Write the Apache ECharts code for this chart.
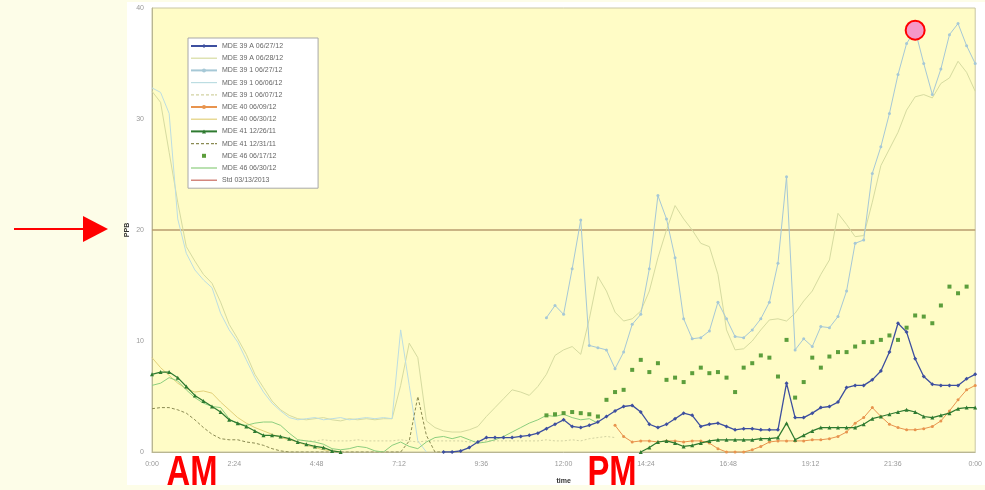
<!DOCTYPE html>
<html><head><meta charset="utf-8">
<script src="https://cdn.jsdelivr.net/npm/echarts@6/dist/echarts.min.js"></script>
<style>
html,body{margin:0;padding:0;background:#fdfde8;}
#paper{position:absolute;left:127px;top:2px;width:858px;height:483px;background:#ffffff;}
#c{position:absolute;left:0;top:0;width:985px;height:490px;}
</style>
</head><body>
<div id="paper"></div>
<div id="c"></div>
<script>
// ---- data (time in hours, 15-minute steps) ----
const STEP = 0.25;
const xTickLabels = ['0:00','2:24','4:48','7:12','9:36','12:00','14:24','16:48','19:12','21:36','0:00'];
const yTickLabels = ['0','10','20','30','40'];
const seriesNames = [
  'MDE 39 A 06/27/12','MDE 39 A 06/28/12','MDE 39 1 06/27/12','MDE 39 1 06/06/12',
  'MDE 39 1 06/07/12','MDE 40 06/09/12','MDE 40 06/30/12','MDE 41 12/26/11',
  'MDE 41 12/31/11','MDE 46 06/17/12','MDE 46 06/30/12','Std 03/13/2013'
];

const s1Start = 8.5;
const s1 = [0,0,0.1,0.4,0.9,1.3,1.3,1.3,1.3,1.4,1.5,1.7,2.1,2.5,2.9,2.3,2.2,2.4,2.7,3.2,3.7,4.1,4.2,3.6,2.5,2.2,2.5,3.0,3.5,3.3,2.3,2.5,2.6,2.3,2.0,2.1,2.1,2.0,2.0,2.0,6.2,3.1,3.1,3.5,4.0,4.1,4.5,5.8,6.0,6.0,6.5,7.3,9.0,11.6,10.8,8.4,6.8,6.1,6.0,6.0,6.0,6.6,7.0];

const s2Start = 0;
const s2 = [32.5,31.5,27.0,22.5,18.5,17.2,16.0,15.2,13.5,11.5,10.2,8.8,7.0,5.8,4.6,3.8,3.3,3.0,2.9,3.0,3.1,2.9,2.8,3.0,2.9,3.0,2.9,3.0,3.0,6.0,9.8,8.5,2.8,2.2,1.9,1.8,1.8,2.0,2.3,3.2,4.0,4.8,5.6,5.4,5.1,5.9,7.0,8.7,9.2,9.5,8.8,12.0,15.8,14.5,12.6,11.8,12.0,12.7,14.5,17.5,20.0,22.2,21.0,20.0,18.8,18.5,16.0,11.0,9.2,9.3,10.0,11.0,11.9,12.0,11.8,12.5,13.6,14.5,16.0,17.3,21.5,20.5,19.4,19.5,22.5,25.8,27.3,28.8,30.8,32.0,32.2,31.9,33.2,33.7,35.2,34.2,32.5];

const s3Start = 11.5;
const s3 = [12.1,13.2,12.4,16.5,20.9,9.6,9.4,9.2,7.5,9.0,11.5,12.4,16.5,23.1,21.0,17.5,12.0,10.2,10.3,10.9,13.5,12.0,10.4,10.3,11.0,12.0,13.5,17.0,24.8,9.2,10.2,9.5,11.3,11.2,12.2,14.5,18.8,19.1,25.1,27.5,30.5,34.0,36.8,38.0,35.0,32.2,34.5,37.6,38.6,36.6,35.0];

const s4Start = 0;
const s4 = [32.8,32.4,30.5,21.0,17.9,16.4,15.5,14.8,12.5,11.0,9.9,8.3,6.7,5.4,4.4,3.7,3.1,2.9,3.0,3.1,2.9,3.0,3.1,2.9,3.0,3.1,3.0,3.1,3.0,11.0,6.0,1.0,0];

const s5Start = 4.25;
const s5 = [1.1,1.0,1.0,1.1,1.0,1.0,1.0,1.1,1.0,1.0,1.0,1.0,1.1,1.0,0.9,1.0,1.0,1.0,1.0,1.0,0.9,1.0,1.0,1.0,1.0,1.0,1.0,1.0,1.0,1.1,1.0,1.0,1.1,1.0,1.2,1.3,1.4,1.3];

const s6Start = 13.5;
const s6 = [2.4,1.4,0.9,1.0,1.0,0.9,1.0,1.0,0.9,1.0,1.0,0.8,0.3,0,0,0,0.2,0.5,0.9,1.0,1.0,1.0,1.0,1.1,1.1,1.2,1.4,1.8,2.6,3.1,4.0,3.2,2.5,2.2,2.0,2.0,2.1,2.3,2.8,3.7,4.7,5.6,6.0];

const s7Start = 0;
const s7 = [8.5,7.6,6.9,6.2,5.7,5.4,5.5,5.3,4.5,3.8,3.1,2.6,2.2,1.9,1.6,1.3,1.1,0.9,0.6,0.4,0.2,0.1,0];

const s8amStart = 0;
const s8am = [7.0,7.2,7.2,6.7,5.9,5.1,4.6,4.1,3.6,2.9,2.6,2.3,1.9,1.5,1.5,1.4,1.2,0.9,0.7,0.5,0.4,0.1,0];
const s8pmStart = 14.25;
const s8pm = [0,0.4,0.9,1.0,0.8,0.5,0.6,0.8,1.0,1.1,1.1,1.1,1.1,1.1,1.2,1.2,1.3,2.6,1.1,1.5,1.9,2.2,2.2,2.2,2.2,2.2,2.5,3.0,3.2,3.4,3.6,3.8,3.6,3.2,3.1,3.3,3.5,3.9,4.0,4.0];

const s9Start = 0;
const s9 = [3.9,4.0,4.0,3.8,3.5,2.9,2.2,1.6,1.2,1.1,1.1,0.9,0.8,0.6,0.3,0.1, 0,0,0,0,0,0,0,0,0,0,0,0,0,0, 1.0,5.0,1.5,0,0];

const s10Start = 11.5;
const s10 = [3.3,3.4,3.5,3.6,3.5,3.4,3.2,4.7,5.4,5.6,7.4,8.3,7.2,8.0,6.5,6.7,6.3,7.1,7.6,7.1,7.2,6.7,5.4,7.6,8.0,8.7,8.5,6.8,10.1,4.9,6.3,8.5,7.6,8.6,9.0,9.0,9.5,9.9,9.9,10.1,10.5,10.1,11.2,12.3,12.2,11.6,13.2,14.9,14.3,14.9];

const s11Start = 0;
const s11 = [6.0,6.2,6.7,6.4,5.6,4.9,4.4,4.1,4.0,3.0,2.5,2.4,2.6,2.7,2.7,2.4,1.7,1.1,1.0,0.9,0.7,0.3,0.2,0.3,0.5,0.4,0.1,0,0.6,0.9,0.5,0.3,0.9,1.3,1.4,1.2,1.4,1.1,0.8,0.9,1.1,1.4,1.8,2.2,2.6,2.9,3.3,3.2,3.4,3.1,2.9,3.0,2.6];

const stdTimes = [0, 24];
const stdValues = [20, 20];

const peakPoint = [22.25, 38.0];

// ---- helpers ----
function seg(start, vals) {
  return vals.map((v, i) => [Math.round((start + i * STEP) * 100) / 100, v]);
}

const colors = ['#3d4f9f','#d6dba0','#a6c8d6','#bcdde2','#d2d2a2','#e8944e','#e2d07a','#2e7a30','#8a8a52','#5c9e3c','#8ccd7e','#b89c6e'];

function lineSeries(idx, data, opts) {
  return Object.assign({
    name: seriesNames[idx],
    type: 'line',
    data: data,
    color: colors[idx],
    symbol: 'none',
    lineStyle: { width: 1, color: colors[idx] },
    itemStyle: { color: colors[idx] },
    connectNulls: false,
    silent: true,
    animation: false
  }, opts || {});
}

const series = [
  lineSeries(11, stdTimes.map((t, i) => [t, stdValues[i]]), { lineStyle: { width: 1.6, color: colors[11] }, z: 1 }),
  lineSeries(1, seg(s2Start, s2), { z: 2 }),
  lineSeries(3, seg(s4Start, s4), { z: 2 }),
  lineSeries(4, seg(s5Start, s5), { lineStyle: { width: 1, color: colors[4], type: [2, 2] }, z: 2 }),
  lineSeries(6, seg(s7Start, s7), { z: 2 }),
  lineSeries(8, seg(s9Start, s9), { lineStyle: { width: 1, color: colors[8], type: [3, 2] }, z: 3 }),
  lineSeries(10, seg(s11Start, s11), { z: 3 }),
  lineSeries(2, seg(s3Start, s3), { symbol: 'circle', symbolSize: 3, showSymbol: true, z: 3 }),
  lineSeries(9, seg(s10Start, s10), { symbol: 'rect', symbolSize: 4, showSymbol: true, lineStyle: { opacity: 0 }, z: 4 }),
  lineSeries(5, seg(s6Start, s6), { symbol: 'circle', symbolSize: 3, showSymbol: true, z: 4 }),
  lineSeries(7, seg(s8amStart, s8am).concat([[5.75, null]], seg(s8pmStart, s8pm)), { symbol: 'triangle', symbolSize: 4, showSymbol: true, lineStyle: { width: 1.2, color: colors[7] }, z: 5 }),
  lineSeries(0, seg(s1Start, s1), { symbol: 'diamond', symbolSize: 4, showSymbol: true, lineStyle: { width: 1.3, color: colors[0] }, z: 6 })
];

// legend icons: plain line for series without markers
const solidIcon = 'path://M0,0h26v1.2h-26z';
const dashIcon = 'path://M0,0h3v1.2h-3z M5,0h3v1.2h-3z M10,0h3v1.2h-3z M15,0h3v1.2h-3z M20,0h3v1.2h-3z M24,0h2v1.2h-2z';
const markerSeries = [0, 2, 5, 7, 9];
const dashedSeries = [4, 8];
const legendData = seriesNames.map((n, i) => {
  if (markerSeries.indexOf(i) >= 0) return { name: n };
  const item = { name: n, icon: dashedSeries.indexOf(i) >= 0 ? dashIcon : solidIcon };
  if (i === 11) item.itemStyle = { color: '#c86a5e' };
  return item;
});

const chart = echarts.init(document.getElementById('c'), null, { renderer: 'canvas' });
chart.setOption({
  backgroundColor: 'transparent',
  animation: false,
  grid: {
    left: 152, right: 5, top: 8, bottom: 38,
    show: true, backgroundColor: '#fffcc6', borderColor: '#c9c6a4', borderWidth: 1
  },
  legend: {
    orient: 'vertical', left: 188, top: 38,
    data: legendData,
    itemWidth: 26, itemHeight: 5, itemGap: 4.2,
    padding: [4, 35, 4, 2],
    backgroundColor: '#ffffff', borderColor: '#a8a8a8', borderWidth: 1,
    textStyle: { fontSize: 7, color: '#666666', lineHeight: 8, fontFamily: 'Liberation Sans, Arial, sans-serif' },
    selectedMode: false
  },
  xAxis: {
    type: 'value', min: 0, max: 24, interval: 2.4,
    name: 'time', nameLocation: 'middle', nameGap: 26,
    nameTextStyle: { fontSize: 7, fontWeight: 'bold', color: '#333333' },
    axisLine: { show: true, lineStyle: { color: '#b9b692' } },
    axisTick: { show: false },
    splitLine: { show: false },
    axisLabel: {
      fontSize: 7, color: '#999999', margin: 9,
      formatter: v => xTickLabels[Math.round(v / 2.4)]
    }
  },
  yAxis: {
    type: 'value', min: 0, max: 40, interval: 10,
    name: 'PPB', nameLocation: 'middle', nameGap: 21, nameRotate: 90,
    nameMoveOverlap: false,
    nameTextStyle: { fontSize: 7, fontWeight: 'bold', color: '#333333' },
    axisLine: { show: true, lineStyle: { color: '#b9b692' } },
    axisTick: { show: false },
    splitLine: { show: false },
    axisLabel: {
      fontSize: 7, color: '#999999', margin: 8,
      formatter: v => yTickLabels[Math.round(v / 10)]
    }
  },
  series: series
});

const pk = chart.convertToPixel({ gridIndex: 0 }, peakPoint);
chart.setOption({
  graphic: [
    { type: 'line', shape: { x1: 14, y1: 229, x2: 88, y2: 229 }, style: { stroke: '#ff0000', lineWidth: 2 }, z: 100 },
    { type: 'polygon', shape: { points: [[83, 216], [108, 229], [83, 242]] }, style: { fill: '#ff0000' }, z: 100 },
    { type: 'text', x: 192, y: 473, scaleX: 0.78, z: 100,
      style: { text: 'AM', x: 0, y: 0, textAlign: 'center', textVerticalAlign: 'middle', font: 'bold 42px "Liberation Sans", Arial, sans-serif', fill: '#ff0000' } },
    { type: 'text', x: 612, y: 473, scaleX: 0.78, z: 100,
      style: { text: 'PM', x: 0, y: 0, textAlign: 'center', textVerticalAlign: 'middle', font: 'bold 42px "Liberation Sans", Arial, sans-serif', fill: '#ff0000' } },
    { type: 'circle', shape: { cx: pk[0], cy: pk[1], r: 9.5 }, style: { fill: '#f598c8', stroke: '#ff0000', lineWidth: 2 }, z: 100 }
  ]
});
</script>
</body></html>
